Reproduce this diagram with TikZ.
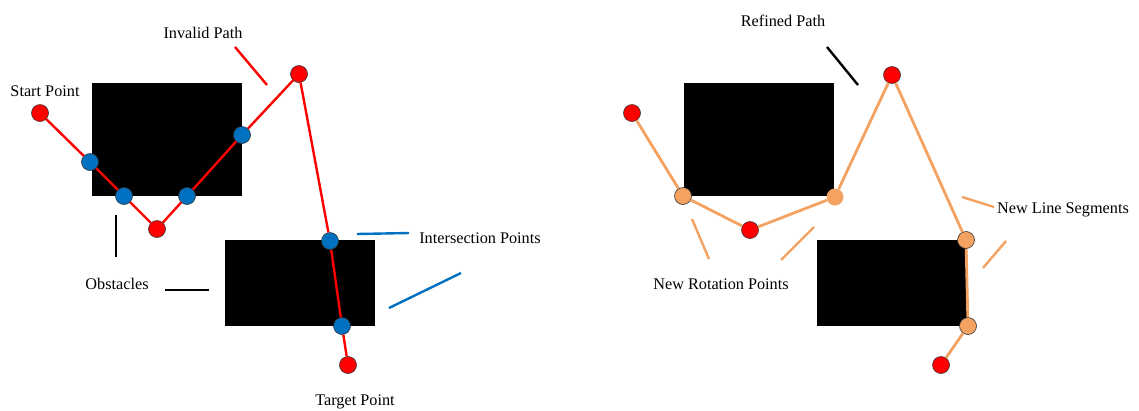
\documentclass[tikz,border=0pt]{standalone}
\usepackage{fontspec}
\setmainfont{Liberation Serif}
\usepackage{tikz}

\definecolor{pathred}{RGB}{255,0,0}
\definecolor{hitblue}{RGB}{0,112,192}
\definecolor{newtan}{RGB}{244,162,97}

\begin{document}
\begin{tikzpicture}[x=1bp, y=-1bp,
    every node/.style={font=\fontsize{16.3}{19}\selectfont},
    pt/.style={circle, draw=black!80, line width=0.6bp, minimum size=17bp, inner sep=0pt},
    redpt/.style={pt, fill=pathred},
    bluept/.style={pt, fill=hitblue},
    tanpt/.style={pt, fill=newtan},
    lead/.style={line width=2.4bp}]
  \useasboundingbox (0, 0) rectangle (1139, 410);

  % left: the invalid path
  \fill (92, 83) rectangle (242, 196);
  \fill (225, 240) rectangle (375, 326);
  \node [redpt]  (ls)  at (40, 113) {};
  \node [bluept] (lc1) at (90, 162) {};
  \node [bluept] (lc2) at (124, 196) {};
  \node [redpt]  (lr1) at (157, 229) {};
  \node [bluept] (lc3) at (187, 196) {};
  \node [bluept] (lc4) at (242, 135) {};
  \node [redpt]  (lr2) at (299, 74) {};
  \node [bluept] (lc5) at (330, 241) {};
  \node [bluept] (lc6) at (342, 326) {};
  \node [redpt]  (lt)  at (348, 365) {};
  \draw [pathred, line width=2.4bp] (ls) -- (lc1) -- (lc2) -- (lr1) -- (lc3) -- (lc4) -- (lr2)
    -- (lc5) -- (lc6) -- (lt);

  \node (startlbl) at (45, 91) {Start Point};
  \node (invlbl) at (203, 33) {Invalid Path};
  \node (obslbl) at (117, 284) {Obstacles};
  \node (intlbl) at (480, 238) {Intersection Points};
  \node (tgtlbl) at (355, 402) {Target Point};

  \coordinate (inv1) at (235, 47);  \coordinate (inv2) at (267, 85);
  \coordinate (obs1) at (116, 215); \coordinate (obs2) at (116, 257);
  \coordinate (obs3) at (165, 290); \coordinate (obs4) at (209, 290);
  \coordinate (int1) at (357, 234); \coordinate (int2) at (409, 233);
  \coordinate (int3) at (389, 308); \coordinate (int4) at (461, 273);
  \draw [lead, pathred] (inv1) -- (inv2);
  \draw [lead] (obs1) -- (obs2);
  \draw [lead] (obs3) -- (obs4);
  \draw [lead, hitblue] (int1) -- (int2);
  \draw [lead, hitblue] (int3) -- (int4);

  % right: the refined path
  \begin{scope}[shift={(592, 0)}]
    \fill (92, 83) rectangle (242, 196);
    \fill (225, 240) rectangle (375, 326);
    \node [redpt] (rs)  at (40, 113) {};
    \node [tanpt] (rn1) at (91, 196) {};
    \node [redpt] (rr1) at (158, 230) {};
    \node [tanpt, draw=none] (rn2) at (243, 197) {};
    \node [redpt] (rr2) at (300, 75) {};
    \node [tanpt] (rn3) at (374, 240) {};
    \node [tanpt] (rn4) at (376, 326) {};
    \node [redpt] (rt)  at (349, 365) {};
    \draw [newtan, line width=2.8bp] (rs) -- (rn1) -- (rr1) -- (rn2) -- (rr2) -- (rn3) -- (rn4) -- (rt);

    \node (reflbl) at (191, 21) {Refined Path};
    \node (seglbl) at (471, 210) {New Line Segments};
    \node (rotlbl) at (129, 284) {New Rotation Points};

    \coordinate (ref1) at (235, 47);  \coordinate (ref2) at (266, 85);
    \coordinate (seg1) at (370, 197); \coordinate (seg2) at (402, 207);
    \coordinate (seg3) at (414, 241); \coordinate (seg4) at (391, 268);
    \coordinate (rot1) at (100, 219); \coordinate (rot2) at (117, 259);
    \coordinate (rot3) at (222, 227); \coordinate (rot4) at (189, 260);
    \draw [lead] (ref1) -- (ref2);
    \draw [lead, newtan] (seg1) -- (seg2);
    \draw [lead, newtan] (seg3) -- (seg4);
    \draw [lead, newtan] (rot1) -- (rot2);
    \draw [lead, newtan] (rot3) -- (rot4);
  \end{scope}
\end{tikzpicture}
\end{document}
